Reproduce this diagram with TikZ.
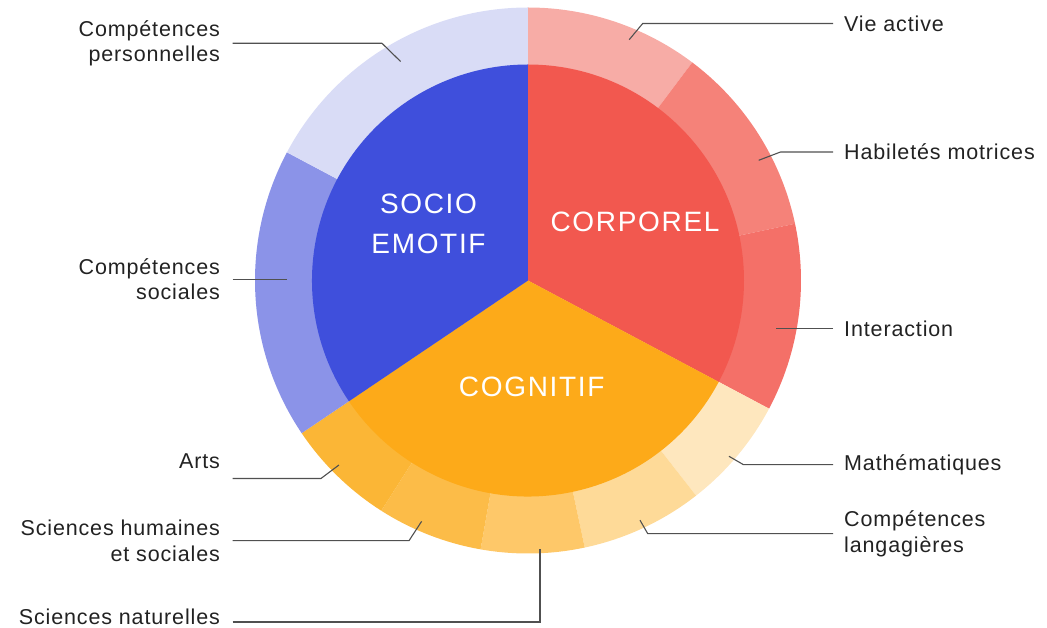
\documentclass[tikz,border=0pt]{standalone}
\usepackage{fontspec}
\setmainfont{Liberation Sans}[LetterSpace=4]
\newfontfamily\domfont{Liberation Sans}[LetterSpace=6]
\usepackage{tikz}

\definecolor{cSocio}{RGB}{63,79,220}
\definecolor{cSoc}{RGB}{139,147,232}
\definecolor{cPerso}{RGB}{217,220,246}
\definecolor{cCorpo}{RGB}{242,88,79}
\definecolor{cVie}{RGB}{247,172,166}
\definecolor{cHab}{RGB}{245,130,121}
\definecolor{cInter}{RGB}{244,112,104}
\definecolor{cCogni}{RGB}{253,170,25}
\definecolor{cMath}{RGB}{254,231,190}
\definecolor{cLang}{RGB}{254,218,152}
\definecolor{cNat}{RGB}{254,200,105}
\definecolor{cHum}{RGB}{252,188,72}
\definecolor{cArts}{RGB}{251,182,54}
\definecolor{txtgray}{RGB}{34,34,34}
\definecolor{linegray}{RGB}{80,80,80}

\begin{document}
\begin{tikzpicture}[x=1pt, y=1pt,
		lbl/.style={font=\fontsize{21.5}{25.5}\selectfont, text=txtgray, inner ysep=0pt},
		rlbl/.style={lbl, anchor=west, inner xsep=11pt, align=left},
		llbl/.style={lbl, anchor=east, inner xsep=12.5pt, align=right},
		domlbl/.style={font=\domfont\fontsize{28}{40}\selectfont, text=white, align=center},
		lead/.style={draw=linegray, line width=1.1pt}]
	\useasboundingbox (-528,-347.5) rectangle (519,280.5);
	
	% outer ring
	\fill[cVie] (0,0) -- (90:273) arc[start angle=90, end angle=53, radius=273] -- cycle;
	\fill[cHab] (0,0) -- (53:273) arc[start angle=53, end angle=12, radius=273] -- cycle;
	\fill[cInter] (0,0) -- (12:273) arc[start angle=12, end angle=-28, radius=273] -- cycle;
	\fill[cMath] (0,0) -- (-28:273) arc[start angle=-28, end angle=-52, radius=273] -- cycle;
	\fill[cLang] (0,0) -- (-52:273) arc[start angle=-52, end angle=-78, radius=273] -- cycle;
	\fill[cNat] (0,0) -- (-78:273) arc[start angle=-78, end angle=-100, radius=273] -- cycle;
	\fill[cHum] (0,0) -- (-100:273) arc[start angle=-100, end angle=-122.5, radius=273] -- cycle;
	\fill[cArts] (0,0) -- (-122.5:273) arc[start angle=-122.5, end angle=-146, radius=273] -- cycle;
	\fill[cSoc] (0,0) -- (214:273) arc[start angle=214, end angle=152, radius=273] -- cycle;
	\fill[cPerso] (0,0) -- (152:273) arc[start angle=152, end angle=90, radius=273] -- cycle;
	
	% inner pie
	\fill[cCorpo] (0,0) -- (90:216) arc[start angle=90, end angle=-28, radius=216] -- cycle;
	\fill[cCogni] (0,0) -- (-28:216) arc[start angle=-28, end angle=-146, radius=216] -- cycle;
	\fill[cSocio] (0,0) -- (214:216) arc[start angle=214, end angle=90, radius=216] -- cycle;
	
	\path (-99.5,57) node[domlbl] (socio) {SOCIO\\EMOTIF}
	(107,59) node[domlbl] (corporel) {CORPOREL}
	(3.7,-106.2) node[domlbl] (cognitif) {COGNITIF};
	
	\path (-295.4,237.2) node[llbl] (perso) {Compétences\\personnelles}
	(-295.4,1.3) node[llbl] (soc) {Compétences\\sociales}
	(-295.4,-180.5) node[llbl] (arts) {Arts}
	(-295.4,-260.2) node[llbl] (hum) {Sciences humaines\\et sociales}
	(-295.4,-336.5) node[llbl] (nat) {Sciences naturelles}
	(305,257) node[rlbl] (vie) {Vie active}
	(305,128.5) node[rlbl] (hab) {Habiletés motrices}
	(305,-48.1) node[rlbl] (inter) {Interaction}
	(305,-184.2) node[rlbl] (math) {Mathématiques}
	(305,-253.1) node[rlbl] (lang) {Compétences\\langagières};
	
	\path (-127.4,219) coordinate (persoA)
	(-241,1.3) coordinate (socA)
	(-189,-184.5) coordinate (artsA)
	(-106.4,-240.9) coordinate (humA)
	(12,-268.5) coordinate (natA)
	(101.2,240.8) coordinate (vieA)
	(230.7,120.2) coordinate (habA)
	(247.5,-48.1) coordinate (interA)
	(201,-175.8) coordinate (mathA)
	(112,-239.7) coordinate (langA);
	
	\draw[lead] (perso.east) -- ++(149.4,0) -- (persoA);
	\draw[lead] (soc.east) -- (socA);
	\draw[lead] ([yshift=-17.5pt]arts.east) -- ++(88.4,0) -- (artsA);
	\draw[lead] (hum.east) -- ++(176.4,0) -- (humA);
	\draw[lead] ([yshift=-5pt]nat.east) -| (natA);
	\draw[lead] (vie.west) -- ++(-190.3,0) -- (vieA);
	\draw[lead] (hab.west) -- ++(-52.5,0) -- (habA);
	\draw[lead] (inter.west) -- (interA);
	\draw[lead] (math.west) -- ++(-89.5,0) -- (mathA);
	\draw[lead] (lang.west) -- ++(-185.3,0) -- (langA);
\end{tikzpicture}
\end{document}
